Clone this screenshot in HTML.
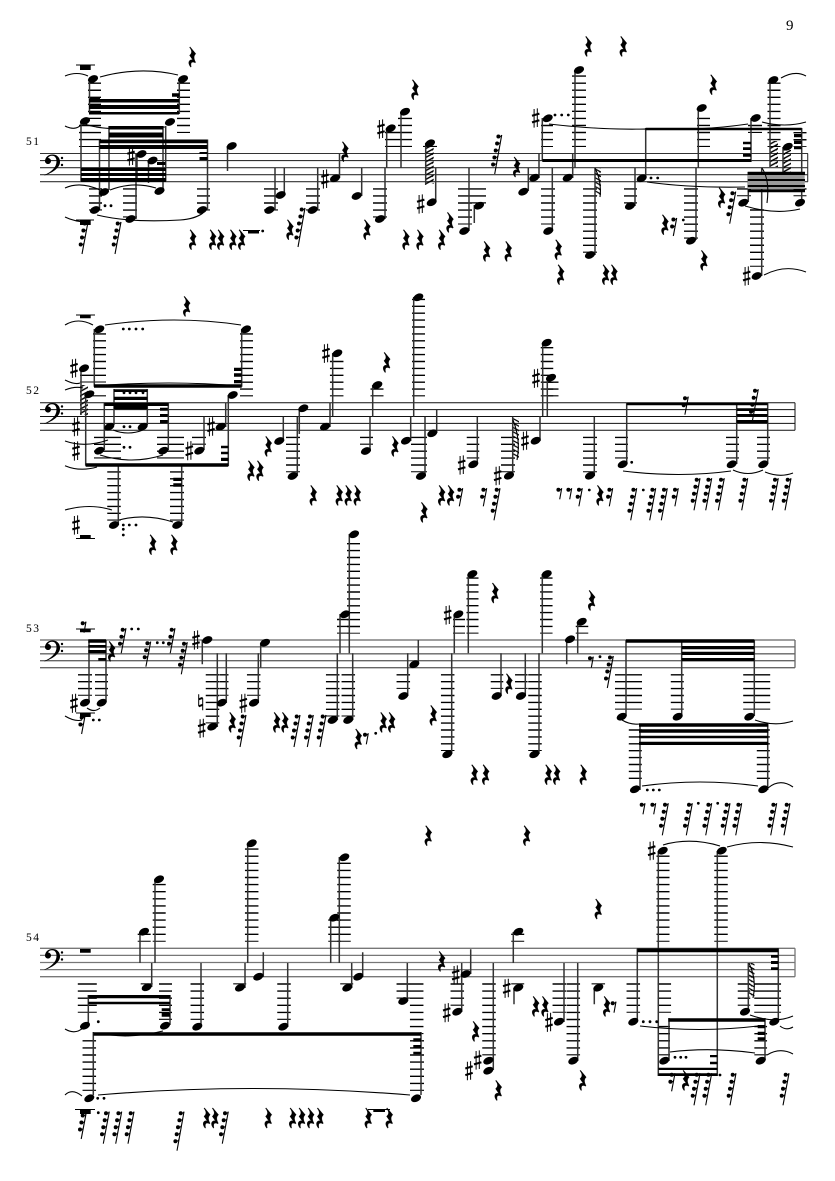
<!DOCTYPE html>
<html><head><meta charset="utf-8"><style>
html,body{margin:0;padding:0;background:#fff}
svg{display:block}
.l1 path{stroke-dasharray:1.4 5.65}.l2 path{stroke-dasharray:1.4 5.5}.l3 path{stroke-dasharray:1.4 5.5}.l4 path{stroke-dasharray:1.4 5.7}
.l1,.l2,.l3,.l4{stroke:#000;fill:none}
.st{stroke:#333;stroke-width:1.5;fill:none}
.t{stroke:#000;stroke-width:1.1;fill:none}
.bm{fill:#000}
text{font-family:"Liberation Serif",serif;fill:#000}
</style></head><body>
<svg xmlns="http://www.w3.org/2000/svg" width="835" height="1181" viewBox="0 0 835 1181">
<defs>
<ellipse id="n" rx="5.3" ry="3.5" transform="rotate(-24)"/>
<path id="r" transform="scale(1.1)" stroke="#000" stroke-width=".35" d="M-2-9.5L3.2-3.2C1.5-1.5 .8.3 3 4.5L2.6 5C0 3.6-2 4.3-1 8.6L-1.4 9C-4 6-3.8 2.4-.5 2.2L.5 2.5L-2.5-1.8C-.5-3.5.3-5.5-2.5-9Z"/>
<g id="s"><path d="M-1.6-9V9.6M1.6-9.6V9" stroke="#000" stroke-width="1" fill="none"/><path d="M-3.7-2.2L3.7-4.4M-3.7 4.4L3.7 2.2" stroke="#000" stroke-width="2.1" fill="none"/></g>
<g id="k0"><path d="M0 0Q-1 2.2-3.3 1.5" stroke="#000" stroke-width=".9" fill="none"/><circle cx="-3.3" cy="1.5" r="2"/></g>
<g id="e1"><path d="M0 0L-2 11" stroke="#000" stroke-width="1.1" fill="none"/><use href="#k0"/></g>
<g id="e2"><path d="M0 0L-3.4 18" stroke="#000" stroke-width="1.1" fill="none"/><use href="#k0"/><use href="#k0" x="-1.3" y="7"/></g>
<g id="e3"><path d="M0 0L-4.8 25" stroke="#000" stroke-width="1.1" fill="none"/><use href="#k0"/><use href="#k0" x="-1.3" y="7"/><use href="#k0" x="-2.7" y="14"/></g>
<g id="e4"><path d="M0 0L-6 32" stroke="#000" stroke-width="1.1" fill="none"/><use href="#k0"/><use href="#k0" x="-1.3" y="7"/><use href="#k0" x="-2.7" y="14"/><use href="#k0" x="-4" y="21"/></g>
<g id="e5"><path d="M0 0L-7 39" stroke="#000" stroke-width="1.1" fill="none"/><use href="#k0"/><use href="#k0" x="-1.3" y="7"/><use href="#k0" x="-2.7" y="14"/><use href="#k0" x="-4" y="21"/><use href="#k0" x="-5.3" y="28"/></g>
<g id="c"><path d="M4.5 21.5C11 18.5 16.5 14 16.5 8C16.5 4.5 15 2.2 12 2.2C10 2.2 8.5 3.2 8 4.5A3 3 0 1 1 5 8C5 4 8 1 12.5 1C17 1 20 4 20 8.5C20 14.5 12 19.5 4.5 22Z"/><circle cx="8" cy="7.5" r="2.9"/><circle cx="22" cy="4.5" r="1.2"/><circle cx="22" cy="11.5" r="1.2"/></g>
<g id="nat"><path d="M-2-8V4M2-4V8" stroke="#000" stroke-width="1" fill="none"/><path d="M-2-3L2-4.5M-2 4L2 2.5" stroke="#000" stroke-width="2" fill="none"/></g>
<pattern id="p" width="8" height="4.4" patternUnits="userSpaceOnUse"><path d="M0 4.4L8 0M-1 1L1-.2M7 5L9 3.8" stroke="#000" stroke-width="1.4"/></pattern>
<pattern id="q" width="8" height="4.4" patternUnits="userSpaceOnUse"><path d="M0 0L8 4.4M-1 3.8L1 5M7-.2L9 1" stroke="#000" stroke-width="1.2"/></pattern>
</defs>
<rect width="835" height="1181" fill="#fff"/>
<text x="786" y="30" font-size="15">9</text>
<text x="26" y="145" font-size="11.5" textLength="13">51</text>
<text x="26" y="394" font-size="11.5" textLength="13">52</text>
<text x="26" y="632" font-size="11.5" textLength="13">53</text>
<text x="26" y="941" font-size="11.5" textLength="13">54</text>

<!-- staves -->
<path d="M40 153.5H808M40 160.6H808M40 167.7H808M40 174.7H808M40 181.7H808M807.7 153.5V181.7" stroke="#333" stroke-width="1.1" fill="none"/>
<path d="M40 402.7H795M40 409.6H795M40 416.5H795M40 423.4H795M40 430.3H795M795 402.7V430.3" stroke="#111" stroke-width="1" fill="none"/>
<path d="M40 640H795M40 646.9H795M40 653.8H795M40 660.7H795M40 667.7H795M795 640V667.7" stroke="#666" stroke-width="1.3" fill="none"/>
<path d="M40 948.3H795M40 955.4H795M40 962.5H795M40 969.6H795M40 976.7H795M795 948.3V976.7" stroke="#777" stroke-width="1.3" fill="none"/>
<use href="#c" x="40" y="153.5"/><use href="#c" x="40" y="402"/><use href="#c" x="40" y="639.5"/><use href="#c" x="40" y="948"/>

<!-- ledger system 1 -->
<g class="l1">
<path stroke-width="13" d="M94.5 82.5V119"/><path stroke-width="13" d="M183.5 82.5V133"/><path stroke-width="22" d="M90 124.8V147"/>
<path stroke-width="14" d="M130 188.2V217.5"/><path stroke-width="13" d="M95.5 188.2V210.5"/><path stroke-width="13" d="M203.5 188.2V210.5"/>
<path stroke-width="14" d="M271 188.2V210.5"/><path stroke-width="14" d="M313 188.2V210.5"/><path stroke-width="14" d="M380 188.2V217.5"/>
<path stroke-width="13" d="M391.5 131.8V147"/><path stroke-width="14" d="M405 117.7V147"/><path stroke-width="14" d="M430 145.9V147"/>
<path stroke-width="14" d="M465 188.2V224.5"/><path stroke-width="14" d="M479 188.2V203.5"/><path stroke-width="12" d="M547 124.8V147"/>
<path stroke-width="14" d="M548 188.2V224.5"/><path stroke-width="14" d="M579 75.4V147"/><path stroke-width="14" d="M590 188.2V252.8"/>
<path stroke-width="13" d="M630.5 188.2V203.5"/><path stroke-width="13" d="M703.5 117.7V147"/><path stroke-width="14" d="M691 188.2V238.6"/>
<path stroke-width="14" d="M755 124.8V133"/><path stroke-width="13" d="M774 82.5V147"/><path stroke-width="14" d="M757 209.3V266.8"/>
<path stroke-width="14" d="M744 188.2V196.3"/><path stroke-width="13" d="M800 188.2V196.3"/><path stroke-width="13" d="M800 132V147"/>
</g>
<!-- ledger system 2 -->
<g class="l2">
<path stroke-width="13" d="M99.5 333.2V382.5"/><path stroke-width="13" d="M246.5 333.2V396.4"/><path stroke-width="13" d="M86.5 374.6V382.5"/>
<path stroke-width="18" d="M97 395.3V396.4"/><path stroke-width="27" d="M107.5 436.7V458.5"/><path stroke-width="27" d="M170.5 436.7V458.5"/>
<path stroke-width="14" d="M199 436.7V444.7"/><path stroke-width="13.5" d="M114 471.2V520.6"/><path stroke-width="14" d="M177 471.2V520.6"/>
<path stroke-width="14" d="M293 436.7V472.3"/><path stroke-width="13.5" d="M336.7 360.8V396.4"/><path stroke-width="13" d="M366.5 436.7V444.7"/>
<path stroke-width="13" d="M377 388.4V396.4"/><path stroke-width="13" d="M418.5 298.7V396.4"/><path stroke-width="16" d="M419 436.7V472.3"/>
<path stroke-width="12.5" d="M473 436.7V458.5"/><path stroke-width="14" d="M508 436.7V472.3"/><path stroke-width="12.5" d="M547 347V396.4"/>
<path stroke-width="12" d="M552.5 381.5V396.4"/><path stroke-width="14" d="M590 436.7V472.3"/><path stroke-width="13" d="M621.5 436.7V458.5"/>
<path stroke-width="13" d="M732.5 436.7V458.5"/><path stroke-width="13" d="M763.5 436.7V458.5"/>
</g>
<!-- ledger system 3 -->
<g class="l3">
<path stroke-width="14" d="M85 674.1V695.8"/><path stroke-width="13" d="M101.5 674.1V695.8"/><path stroke-width="13.5" d="M212.5 674.1V723.4"/>
<path stroke-width="9" d="M224 674.1V695.8"/><path stroke-width="13.5" d="M253.7 674.1V695.8"/><path stroke-width="13.5" d="M332.7 674.1V716.5"/>
<path stroke-width="13.5" d="M348.3 674.1V716.5"/><path stroke-width="13" d="M343.5 618.8V633.6"/><path stroke-width="13" d="M353.5 543V633.6"/>
<path stroke-width="13.5" d="M403.3 674.1V688.9"/><path stroke-width="13.5" d="M447.7 674.1V751"/><path stroke-width="12" d="M459 618.8V633.6"/>
<path stroke-width="12" d="M472.5 577.4V633.6"/><path stroke-width="12.5" d="M497 674.1V688.9"/><path stroke-width="12.5" d="M521.3 674.1V688.9"/>
<path stroke-width="13.5" d="M535 674.1V751"/><path stroke-width="12.5" d="M546.3 577.4V633.6"/><path stroke-width="12.5" d="M582 625.7V633.6"/>
<path stroke-width="27" d="M628.5 674.1V709.6"/><path stroke-width="13" d="M677.3 674.1V709.6"/><path stroke-width="27" d="M756.7 674.1V709.6"/>
<path stroke-width="13" d="M635.3 729.3V779"/><path stroke-width="13" d="M763.3 729.3V779"/>
</g>
<!-- ledger system 4 -->
<g class="l4">
<path stroke-width="19" d="M87.3 983.3V1012.8"/><path stroke-width="13" d="M165.5 983.3V1019.9"/><path stroke-width="12" d="M146.7 983.3V984.4"/>
<path stroke-width="13" d="M144.2 933.6V941.8"/><path stroke-width="13" d="M159.2 883.9V941.8"/><path stroke-width="13.5" d="M197.3 983.3V1019.9"/>
<path stroke-width="13" d="M239.7 983.3V984.4"/><path stroke-width="13.5" d="M251.7 848.4V941.8"/><path stroke-width="13.5" d="M284 983.3V1019.9"/>
<path stroke-width="12.5" d="M334.5 919.4V941.8"/><path stroke-width="13.5" d="M344 862.6V941.8"/><path stroke-width="13" d="M346.7 983.3V984.4"/>
<path stroke-width="13.5" d="M403.3 983.3V998.6"/><path stroke-width="13.5" d="M89.3 1040.1V1090.9"/><path stroke-width="14" d="M417 1040.1V1090.9"/>
<path stroke-width="13.5" d="M416.7 983.3V1034.1"/><path stroke-width="13.5" d="M457.3 983.3V1005.7"/><path stroke-width="13.5" d="M489 983.3V1055.4"/>
<path stroke-width="13" d="M517.7 933.6V941.8"/><path stroke-width="13" d="M517.7 983.3V984.4"/><path stroke-width="13.5" d="M559.3 983.3V1012.8"/>
<path stroke-width="13.5" d="M573.3 983.3V1055.4"/><path stroke-width="13.5" d="M598.3 983.3V984.4"/><path stroke-width="13.5" d="M633.3 983.3V1012.8"/>
<path stroke-width="13.5" d="M774.3 983.3V1012.8"/><path stroke-width="13.5" d="M761 983.3V1012.8"/><path stroke-width="12.5" d="M744 983.3V1005.7"/>
<path stroke-width="13" d="M663 855.5V941.8"/><path stroke-width="13.5" d="M664.3 983.3V1012.8"/><path stroke-width="12" d="M664 1025.9V1055.4"/>
<path stroke-width="13.5" d="M721 855.5V941.8"/><path stroke-width="12.7" d="M760.7 1025.9V1055.4"/>
</g>

<!-- hatch flags -->
<rect x="425.7" y="146" width="8" height="38" fill="url(#p)"/><rect x="770" y="141" width="8" height="26" fill="url(#p)"/><rect x="783" y="150" width="8" height="23" fill="url(#p)"/><rect x="80" y="385" width="8" height="30" fill="url(#p)"/>
<rect x="513" y="418" width="6" height="40" fill="url(#q)"/><rect x="595" y="168" width="6" height="28" fill="url(#q)"/><rect x="748.5" y="963" width="6" height="34" fill="url(#q)"/>

<!-- stems -->
<path class="st" d="M89.5 79V113M179.3 79V114M81 121V182M165.7 126V182M109 126V190M163 126V190M99.5 139.5V210M207.5 139.5V210M137 154V180M148.5 160V183M136 154V219M227.5 146V171M275 210V167.7M284.3 195V167.7M317.7 210V167.7M339.5 178V153M361.7 196V167.7M385 219V167.7M386.7 128V167.7M401 112V167.7M425.7 143V185M435.7 202V167.7M469 231V167.7M474.3 205V223M528.3 191V167.7M539 178V153M542.3 118V160M751 118V162M572.7 178V153M552.3 231V167.7M575 70V167.7M595 255V167.7M645.7 128V176.7M635 206V167.7M698.3 108V167.7M696 240V167.7M770 80V167M783 147V178M801.7 128V202M748.3 172V202M761.7 276V167.7"/>
<path class="st" d="M94.3 329V386.7M241.7 329V386.7M81 368V415M85.7 394V465.7M228.3 395V466M104.3 403V450M168.3 403V450M114 389V425M147.3 389V425M204 450V416.7M225.7 427V402.7M118.3 525V466M181.7 525V466M283.3 441V416.7M299.3 408V434M297.3 476V416.7M330 427V402.7M332.7 353V416M370 451V416.7M372.7 385V416.7M410.7 441V416.7M413.7 297V416.7M425 476V416.7M436.7 433V410M477.3 464V416.7M512.7 476V416.7M540 441V416M542.7 343V416M547.3 378V416M594.3 476V416.7M626.7 464V402.7M736.7 403V464M767.7 403V464"/>
<path class="st" d="M89 640V702M106 640V702M202.3 640V664.3M217.3 727V653.3M226.3 703V653.3M258.3 703V653.3M260.7 643V667.7M337.3 720V653.3M352.7 720V653.3M340 614V653.3M349.3 534V653.3M407.7 696V653.3M418.3 664V640M451.7 754V653.3M454.3 614V653.3M468.3 574V653.3M501 696V653.3M525.3 696V653.3M539 754V653.3M542.3 574V653.3M566.7 639V664.3M577.7 622V653.3M626 640V716M681.7 640V716M754.3 640V716M640 724V790M767.7 724V790"/>
<path class="st" d="M88.3 995V1025M170 995V1025M151.7 987V963M140 932V963M155 879V963M201 1027V963M245 988V963M247.7 843V963M263.3 977V952.3M287.7 1027V963M330.7 918V963M339.3 857V963M351.7 988V963M362.7 977V952.3M407.3 1001V963M93.3 1032V1095M421 1032V1095M470.7 974V949.3M461.7 1012V963M493.3 1070V963M513.3 932V963M514 988V1004.3M564 1022V963M577.7 1061V963M594.3 988V1004.3M637.3 1022V948.3M778.3 948V1022M748.3 1012V963M658.3 851V1076M717.3 851V1076M669 1018V1061M765 1018V1060"/>

<!-- beams -->
<rect x="747.7" y="175" width="57" height="14" fill="#999"/>
<path class="bm" d="M89 99H179V102.5H89ZM89 105H179V109H89ZM89 112H179V114.5H89ZM90 97.7H100V101.7H90ZM172 93.3H179.5V96.7H172ZM81 167.7H166V171H81ZM81 173H166V176H81ZM81 178H166V182H81ZM109 126H163V129.5H109ZM109 132.5H163V137.5H109ZM99.5 139.5H207.5V143.3H99.5ZM99.5 145H207.5V149H99.5ZM199.5 152H207.5V154H199.5ZM199.5 157H207.5V160H199.5ZM157 162H165.5V165H157ZM542.3 159H751V162H542.3ZM743 141.7H751V144.3H743ZM743 147.3H751V150H743ZM743 154H751V156.7H743ZM645.7 127.7H801.7V130.3H645.7ZM794 134H801.7V137.3H794ZM794 140.7H801.7V144H794ZM794 146.7H801.7V149.3H794ZM747.7 171.7H805V175H747.7ZM747.7 179H805V181H747.7ZM747.7 185H805V187H747.7ZM747.7 189.3H805V192.3H747.7Z"/>
<path class="bm" d="M94 384.3H241.7V387.7H94ZM85.7 463.3H228.3V466.7H85.7ZM234 367.7H241.7V371H234ZM234 373.3H241.7V376.7H234ZM234 380H241.7V383.3H234ZM221 445.7H228.3V448.3H221ZM221 451.7H228.3V454.3H221ZM221 457.7H228.3V461H221ZM104.3 402.7H168.3V406H104.3ZM114 389.3H147.3V392H114ZM114 396.7H147.3V400H114ZM114 406H147.3V409.3H114ZM160 407.7H167.7V410.7H160ZM160 414H167.7V416.7H160ZM160 420H167.7V423.3H160ZM173.3 477.7H181.7V481H173.3ZM173.3 483.3H181.7V486.7H173.3ZM626.7 402.7H736.7V405.3H626.7ZM736.7 402.7H767.7V405.3H736.7ZM736.7 408.3H767.7V411H736.7ZM736.7 414H767.7V416.7H736.7ZM736.7 420H767.7V423.3H736.7Z"/>
<path class="bm" d="M88.3 639.3H106V642.7H88.3ZM88.3 645H106V647.7H88.3ZM88.3 650H106V653.3H88.3ZM98.3 658H106V660.7H98.3ZM626 639.3H754.3V642.7H626ZM681.7 646H754.3V649.3H681.7ZM681.7 651.7H754.3V655H681.7ZM681.7 658H754.3V661.3H681.7ZM639 723.3H768.3V726.7H639ZM639 729.3H768.3V732.7H639ZM639 735.7H768.3V738.3H639ZM639 741.7H768.3V745H639Z"/>
<path class="bm" d="M88.3 995H170V998.3H88.3ZM88.3 1001.7H170V1004.3H88.3ZM161.7 1008.3H170V1011H161.7ZM161.7 1013H170V1016.7H161.7ZM93.3 1032.3H421V1035.7H93.3ZM413.3 1038.3H421V1041.7H413.3ZM413.3 1045H421V1048.3H413.3ZM413.3 1051.7H421V1054.3H413.3ZM637.3 948.3H778.3V952.3H637.3ZM771 955H778.3V957.7H771ZM771 961H778.3V964H771ZM771 967.3H778.3V970H771ZM668.3 1018.3H765V1021.7H668.3ZM757.7 1025H765V1028.3H757.7ZM757.7 1031.7H765V1035H757.7ZM757.7 1037.3H765V1040H757.7ZM658.3 1067.7H717.3V1070H658.3ZM658.3 1073.3H717.3V1076H658.3ZM710 1055H717.3V1057.3H710ZM710 1061.7H717.3V1064.3H710Z"/>
<!-- whole/half rests -->
<path class="bm" d="M80 65H90.7V70H80ZM80 315H90.7V318.3H80ZM80 535H90.7V538H80ZM80 220H90.7V225H80ZM248 230.5H259V233.5H248ZM80 629H90.7V632.3H80ZM80 713H90.7V717H80ZM80 949H90.7V952.7H80ZM80 1110H90.7V1114H80ZM373.3 1109H385V1112H373.3Z"/>
<path d="M76 65H95M76 220H94M76 315H95M76 538.5H95M76 629H95M76 713H95M75 1109.5H95M243 230.5H260M368 1109.5H390" stroke="#000" stroke-width="1" fill="none"/>

<!-- ties -->
<path class="t" d="M65 76Q77 71 88 76M100 77Q140 66 178 75M85 124Q105 132 165 127M65 188Q80 181 100 190M110 190Q133 181 156 188M65 217Q75 222 88 222M97 215Q130 223 180 220Q195 219 203 213M65 126Q75 131 81 125M762 122Q785 128 806 122M781 78Q795 70 806 76M764 275Q785 264 806 272M647 182Q690 188 745 187M549 124Q600 130 645 129M645 129Q700 131 748 124M745 206Q775 215 800 209M762 168Q770 180 767 203M595 168Q602 182 600 197"/>
<path class="t" d="M65 325Q78 317 93 325M105 325Q175 315 241 325M65 380Q75 385 80 383M65 390Q75 386 83 388M65 441Q85 448 108 440M65 465.7Q80 472 97 467M100 455Q132 465 163 455M113 430Q128 436 143 430M65 510Q90 503 112 510M119 520Q145 513 173 522M94 386Q170 380 241 386M623 471Q680 478 731 471M733 470Q748 477 763 470M765 472Q780 478 793 473M513 420Q521 440 517 460"/>
<path class="t" d="M65 716Q75 722 82 720M87 708Q94 713 100 708M622 720Q630 725 640 724M755 720Q775 727 793 721M642 786Q700 778 758 786M768 788Q780 778 793 787"/>
<path class="t" d="M65 1029Q75 1035 83 1028M110 1035Q135 1038 163 1031M65 1095Q72 1088 82 1096M98 1095Q250 1082 410 1095M663 845Q690 837 720 846M727 847Q760 838 793 847M670 1052Q710 1047 755 1053M767 1055Q780 1047 793 1054M640 1026Q700 1033 758 1026M780 1026Q786 1031 793 1027M750 1015Q775 1024 793 1016M749 963Q757 980 753 998"/>

<!-- notes S1 -->
<g>
<use href="#n" x="93" y="79"/><use href="#n" x="183" y="79"/><use href="#n" x="85" y="121"/><use href="#n" x="170" y="122"/><use href="#n" x="104" y="192"/><use href="#n" x="159.5" y="191"/><use href="#n" x="95" y="210"/><use href="#n" x="202" y="210"/><use href="#n" x="141.5" y="154"/><use href="#n" x="152.5" y="160.5"/><use href="#n" x="130.5" y="219"/><use href="#n" x="231.7" y="146"/><use href="#n" x="269.5" y="210"/><use href="#n" x="280.7" y="195"/><use href="#n" x="312.7" y="210"/><use href="#n" x="335" y="178.3"/><use href="#n" x="356.7" y="196"/><use href="#n" x="380" y="219"/><use href="#n" x="390.7" y="128.3"/><use href="#n" x="405" y="111.7"/><use href="#n" x="430" y="143.3"/><use href="#n" x="431.7" y="202.3"/><use href="#n" x="464.3" y="231"/><use href="#n" x="479" y="205.7"/><use href="#n" x="523.3" y="191.7"/><use href="#n" x="534.3" y="177.7"/><use href="#n" x="547.7" y="118.3"/><use href="#n" x="755.7" y="118"/><use href="#n" x="567.7" y="177.7"/><use href="#n" x="548.3" y="231"/><use href="#n" x="579" y="70"/><use href="#n" x="590" y="255"/><use href="#n" x="641.7" y="178.3"/><use href="#n" x="630" y="206"/><use href="#n" x="701.7" y="108"/><use href="#n" x="691" y="240.7"/><use href="#n" x="773.3" y="80"/><use href="#n" x="787.7" y="146.7"/><use href="#n" x="800" y="202.7"/><use href="#n" x="743.3" y="202.7"/><use href="#n" x="756.7" y="276"/>
<use href="#s" x="131" y="156"/><use href="#s" x="325" y="179"/><use href="#s" x="381" y="129"/><use href="#s" x="420.7" y="204"/><use href="#s" x="535.7" y="118"/><use href="#s" x="746.7" y="276"/>
<circle cx="105" cy="205.7" r="1.4"/><circle cx="111" cy="205.7" r="1.4"/><circle cx="262.7" cy="231" r="1.4"/><circle cx="555" cy="115" r="1.4"/><circle cx="561.7" cy="115" r="1.4"/><circle cx="568.3" cy="115" r="1.4"/><circle cx="651" cy="178" r="1.4"/><circle cx="657.7" cy="178" r="1.4"/><circle cx="683.3" cy="220" r="1.4"/>
</g>
<!-- rests S1 -->
<g>
<use href="#r" x="192.3" y="57.3"/><use href="#r" x="192.7" y="240"/><use href="#r" x="212.7" y="240"/><use href="#r" x="220.7" y="240"/><use href="#r" x="233" y="240"/><use href="#r" x="241.7" y="240"/><use href="#r" x="290" y="230"/><use href="#r" x="367" y="230"/><use href="#r" x="406" y="240"/><use href="#r" x="420" y="240"/><use href="#r" x="441.7" y="240"/><use href="#r" x="450" y="222.7"/><use href="#r" x="415" y="90"/><use href="#r" x="345" y="152"/><use href="#r" x="486.7" y="251.7"/><use href="#r" x="508.3" y="251.7"/><use href="#r" x="516.7" y="167.3"/><use href="#r" x="558.3" y="250"/><use href="#r" x="560.7" y="275"/><use href="#r" x="605.7" y="275"/><use href="#r" x="614" y="275"/><use href="#r" x="588.3" y="46.7"/><use href="#r" x="623.3" y="46.7"/><use href="#r" x="713.3" y="85"/><use href="#r" x="704" y="260.7"/><use href="#r" x="665" y="225"/><use href="#r" x="721.7" y="198"/>
<use href="#e4" x="88" y="222"/><use href="#e4" x="121" y="222"/><use href="#e5" x="305" y="208"/><use href="#e5" x="501.7" y="135"/><use href="#e2" x="676.7" y="218"/><use href="#e4" x="735.7" y="191.7"/>
</g>

<!-- notes S2 -->
<g>
<use href="#n" x="99.3" y="329.3"/><use href="#n" x="246" y="329.3"/><use href="#n" x="84" y="368.3"/><use href="#n" x="89.3" y="394.3"/><use href="#n" x="232.7" y="395"/><use href="#n" x="99.3" y="450.7"/><use href="#n" x="163.3" y="450.7"/><use href="#n" x="109.3" y="426.7"/><use href="#n" x="142.7" y="426.7"/><use href="#n" x="199.3" y="450.7"/><use href="#n" x="220.7" y="426.7"/><use href="#n" x="114" y="525"/><use href="#n" x="177.3" y="525"/><use href="#n" x="279.3" y="441"/><use href="#n" x="303.3" y="408.3"/><use href="#n" x="292.7" y="476"/><use href="#n" x="325" y="426.7"/><use href="#n" x="337.3" y="353.3"/><use href="#n" x="366" y="451"/><use href="#n" x="377.3" y="385"/><use href="#n" x="406" y="440.7"/><use href="#n" x="418.3" y="297.3"/><use href="#n" x="421" y="476"/><use href="#n" x="432.3" y="433.3"/><use href="#n" x="473.3" y="464.3"/><use href="#n" x="509" y="475.7"/><use href="#n" x="535.7" y="440.7"/><use href="#n" x="546.7" y="342.7"/><use href="#n" x="551" y="377.7"/><use href="#n" x="590" y="475.7"/><use href="#n" x="622.7" y="464.3"/><use href="#n" x="731.7" y="464.3"/><use href="#n" x="763.3" y="464.3"/>
<use href="#s" x="74" y="368.3"/><use href="#s" x="76" y="426.7"/><use href="#s" x="76" y="451"/><use href="#s" x="76" y="525"/><use href="#s" x="189.3" y="450.7"/><use href="#s" x="211" y="426.7"/><use href="#s" x="326" y="353.3"/><use href="#s" x="461.7" y="465"/><use href="#s" x="497.7" y="475.7"/><use href="#s" x="525" y="440.7"/><use href="#s" x="536" y="378.3"/>
<circle cx="123.3" cy="329" r="1.4"/><circle cx="129.3" cy="329" r="1.4"/><circle cx="136" cy="329" r="1.4"/><circle cx="142.7" cy="329" r="1.4"/><circle cx="124" cy="447.3" r="1.4"/><circle cx="130" cy="447.3" r="1.4"/><circle cx="124" cy="392.7" r="1.4"/><circle cx="130" cy="392.7" r="1.4"/><circle cx="136" cy="392.7" r="1.4"/><circle cx="143" cy="392.7" r="1.4"/><circle cx="124" cy="426.7" r="1.4"/><circle cx="130" cy="426.7" r="1.4"/><circle cx="123.3" cy="525" r="1.4"/><circle cx="129.3" cy="525" r="1.4"/><circle cx="136" cy="525" r="1.4"/><circle cx="123.3" cy="529.3" r="1.4"/><circle cx="123.3" cy="535" r="1.4"/><circle cx="631.7" cy="462.3" r="1.4"/><circle cx="589.3" cy="490" r="1.4"/><circle cx="643.3" cy="490" r="1.4"/>
<use href="#r" x="186.7" y="306.7"/><use href="#r" x="152.7" y="545"/><use href="#r" x="174" y="545"/><use href="#r" x="268.3" y="446.7"/><use href="#r" x="251" y="471"/><use href="#r" x="260" y="471"/><use href="#r" x="313.3" y="495.7"/><use href="#r" x="339.3" y="495.7"/><use href="#r" x="348.3" y="495.7"/><use href="#r" x="357.3" y="495.7"/><use href="#r" x="386.7" y="362.7"/><use href="#r" x="395" y="446.7"/><use href="#r" x="441.7" y="495.7"/><use href="#r" x="450.7" y="495.7"/><use href="#r" x="424" y="512.7"/><use href="#r" x="600" y="495.7"/>
<use href="#e2" x="688.3" y="396.7"/><use href="#e4" x="758.3" y="389.3"/><use href="#e2" x="462.7" y="488.3"/><use href="#e2" x="486.7" y="488.3"/><use href="#e4" x="500" y="488.3"/><use href="#e1" x="561.7" y="488.3"/><use href="#e1" x="571.7" y="488.3"/><use href="#e2" x="582.3" y="488.3"/><use href="#e2" x="612.7" y="488.3"/><use href="#e4" x="636.7" y="488.3"/><use href="#e4" x="655.7" y="488.3"/><use href="#e4" x="667.3" y="488.3"/><use href="#e2" x="678.3" y="488.3"/><use href="#e4" x="700" y="478.3"/><use href="#e4" x="711.7" y="478.3"/><use href="#e4" x="724.3" y="478.3"/><use href="#e4" x="747.7" y="478.3"/><use href="#e4" x="778.3" y="478.3"/><use href="#e4" x="791" y="478.3"/>
</g>

<!-- notes S3 -->
<g>
<use href="#n" x="85" y="702.7"/><use href="#n" x="101.7" y="702.7"/><use href="#n" x="207.3" y="640"/><use href="#n" x="212.3" y="726.7"/><use href="#n" x="221.7" y="702.7"/><use href="#n" x="254" y="702.7"/><use href="#n" x="265" y="642.7"/><use href="#n" x="332.7" y="720"/><use href="#n" x="348.3" y="720"/><use href="#n" x="345" y="614.3"/><use href="#n" x="354" y="534.3"/><use href="#n" x="403.3" y="696"/><use href="#n" x="414.3" y="664.3"/><use href="#n" x="447.3" y="754.3"/><use href="#n" x="458.3" y="614.3"/><use href="#n" x="472.3" y="574"/><use href="#n" x="496.7" y="696"/><use href="#n" x="521" y="696"/><use href="#n" x="534.3" y="754.3"/><use href="#n" x="546.7" y="574"/><use href="#n" x="570" y="639.3"/><use href="#n" x="581.7" y="621.7"/><use href="#n" x="621.7" y="716.7"/><use href="#n" x="677.7" y="716.7"/><use href="#n" x="749.3" y="716.7"/><use href="#n" x="635" y="789.3"/><use href="#n" x="763.3" y="789.3"/>
<use href="#s" x="74" y="703.3"/><use href="#s" x="196" y="640"/><use href="#s" x="201.7" y="728.3"/><use href="#nat" x="200.7" y="702.3"/><use href="#s" x="243.3" y="703.3"/><use href="#s" x="447.7" y="615"/>
<circle cx="93.3" cy="720" r="1.4"/><circle cx="99.3" cy="720" r="1.4"/><circle cx="131.7" cy="629" r="1.4"/><circle cx="138.3" cy="629" r="1.4"/><circle cx="157.3" cy="642.7" r="1.4"/><circle cx="163.3" cy="642.7" r="1.4"/><circle cx="375.7" cy="733.3" r="1.4"/><circle cx="600" cy="656.7" r="1.4"/><circle cx="647.3" cy="790" r="1.4"/><circle cx="653.3" cy="790" r="1.4"/><circle cx="659.3" cy="790" r="1.4"/><circle cx="698.3" cy="803.3" r="1.4"/><circle cx="717.7" cy="803.3" r="1.4"/>
<use href="#r" x="111.7" y="651.7"/><use href="#r" x="232.3" y="722.7"/><use href="#r" x="276.7" y="722.7"/><use href="#r" x="285" y="722.7"/><use href="#r" x="358.3" y="739.3"/><use href="#r" x="383.3" y="722.7"/><use href="#r" x="391.7" y="722.7"/><use href="#r" x="495" y="593.3"/><use href="#r" x="591.7" y="600.7"/><use href="#r" x="433.3" y="715.7"/><use href="#r" x="474.3" y="775"/><use href="#r" x="485.7" y="775"/><use href="#r" x="548.3" y="775"/><use href="#r" x="556.7" y="775"/><use href="#r" x="583.3" y="775"/><use href="#r" x="509" y="684"/>
<use href="#e1" x="86" y="621.7"/><use href="#e2" x="85" y="716"/><use href="#e3" x="126" y="628.3"/><use href="#e3" x="150.7" y="641.7"/><use href="#e3" x="175" y="628.3"/><use href="#e4" x="187.3" y="642.3"/><use href="#e4" x="246" y="715"/><use href="#e4" x="300" y="715"/><use href="#e4" x="313.3" y="715"/><use href="#e4" x="326" y="715"/><use href="#e1" x="368.3" y="733.3"/><use href="#e1" x="593.3" y="656.7"/><use href="#e4" x="613.3" y="656"/><use href="#e1" x="645" y="803.3"/><use href="#e1" x="655.7" y="803.3"/><use href="#e4" x="668.3" y="803.3"/><use href="#e4" x="692.3" y="803.3"/><use href="#e4" x="711.7" y="803.3"/><use href="#e4" x="730" y="803.3"/><use href="#e4" x="741.7" y="803.3"/><use href="#e4" x="776.7" y="803.3"/><use href="#e4" x="790" y="803.3"/>
</g>

<!-- notes S4 -->
<g>
<use href="#n" x="85" y="1025.7"/><use href="#n" x="165" y="1025.7"/><use href="#n" x="146.7" y="987.3"/><use href="#n" x="144" y="931.7"/><use href="#n" x="159" y="879.3"/><use href="#n" x="197.3" y="1026.7"/><use href="#n" x="240" y="987.7"/><use href="#n" x="251.7" y="843.3"/><use href="#n" x="258.3" y="976.7"/><use href="#n" x="283.3" y="1026.7"/><use href="#n" x="334.3" y="917.7"/><use href="#n" x="344.3" y="857.3"/><use href="#n" x="347.3" y="987.7"/><use href="#n" x="358.3" y="976.7"/><use href="#n" x="403.3" y="1001"/><use href="#n" x="89.3" y="1098.3"/><use href="#n" x="416" y="1098.3"/><use href="#n" x="465.7" y="974"/><use href="#n" x="457.3" y="1011.7"/><use href="#n" x="488.3" y="1060.7"/><use href="#n" x="488.3" y="1070.7"/><use href="#n" x="518.3" y="931.7"/><use href="#n" x="518.3" y="987.7"/><use href="#n" x="559" y="1021.7"/><use href="#n" x="573.3" y="1060.7"/><use href="#n" x="598.3" y="987.7"/><use href="#n" x="633.3" y="1021.7"/><use href="#n" x="774.3" y="1021.7"/><use href="#n" x="745" y="1011.7"/><use href="#n" x="662.7" y="850.7"/><use href="#n" x="721.7" y="850.7"/><use href="#n" x="664.3" y="1060.7"/><use href="#n" x="760.7" y="1060.7"/>
<use href="#s" x="455.7" y="975"/><use href="#s" x="446.7" y="1012.7"/><use href="#s" x="477.7" y="1060"/><use href="#s" x="469" y="1070.7"/><use href="#s" x="506.7" y="988.3"/><use href="#s" x="549" y="1022.3"/><use href="#s" x="651.7" y="850.7"/>
<circle cx="98.3" cy="1021.7" r="1.4"/><circle cx="97.7" cy="1098.3" r="1.4"/><circle cx="104" cy="1098.3" r="1.4"/><circle cx="98.3" cy="1112.7" r="1.4"/><circle cx="643.3" cy="1021.7" r="1.4"/><circle cx="650" cy="1021.7" r="1.4"/><circle cx="656.7" cy="1021.7" r="1.4"/><circle cx="675" cy="1057.3" r="1.4"/><circle cx="680.7" cy="1057.3" r="1.4"/><circle cx="686" cy="1057.3" r="1.4"/><circle cx="720" cy="1075" r="1.4"/>
<use href="#r" x="428.3" y="836"/><use href="#r" x="526.7" y="836"/><use href="#r" x="598.3" y="909.3"/><use href="#r" x="441.7" y="961.7"/><use href="#r" x="475.7" y="1031.7"/><use href="#r" x="535.7" y="1006.7"/><use href="#r" x="545" y="1006.7"/><use href="#r" x="606.7" y="1006.7"/><use href="#r" x="582.7" y="1080.7"/><use href="#r" x="498.3" y="1090.7"/><use href="#r" x="685.7" y="1080.7"/><use href="#r" x="206.7" y="1118.3"/><use href="#r" x="215" y="1118.3"/><use href="#r" x="268.3" y="1118.3"/><use href="#r" x="292.7" y="1118.3"/><use href="#r" x="301.7" y="1118.3"/><use href="#r" x="310.7" y="1118.3"/><use href="#r" x="320" y="1118.3"/><use href="#r" x="368.3" y="1118.3"/><use href="#r" x="389.3" y="1118.3"/>
<use href="#e1" x="616" y="1001.7"/><use href="#e3" x="86" y="1114"/><use href="#e4" x="109.3" y="1111.7"/><use href="#e4" x="121.7" y="1111.7"/><use href="#e4" x="134" y="1111.7"/><use href="#e5" x="184" y="1111.7"/><use href="#e4" x="228.3" y="1111.7"/><use href="#e2" x="675" y="1073.3"/><use href="#e4" x="700" y="1073.3"/><use href="#e4" x="711.7" y="1073.3"/><use href="#e4" x="736" y="1073.3"/><use href="#e4" x="789" y="1073.3"/>
</g>
</svg>
</body></html>
